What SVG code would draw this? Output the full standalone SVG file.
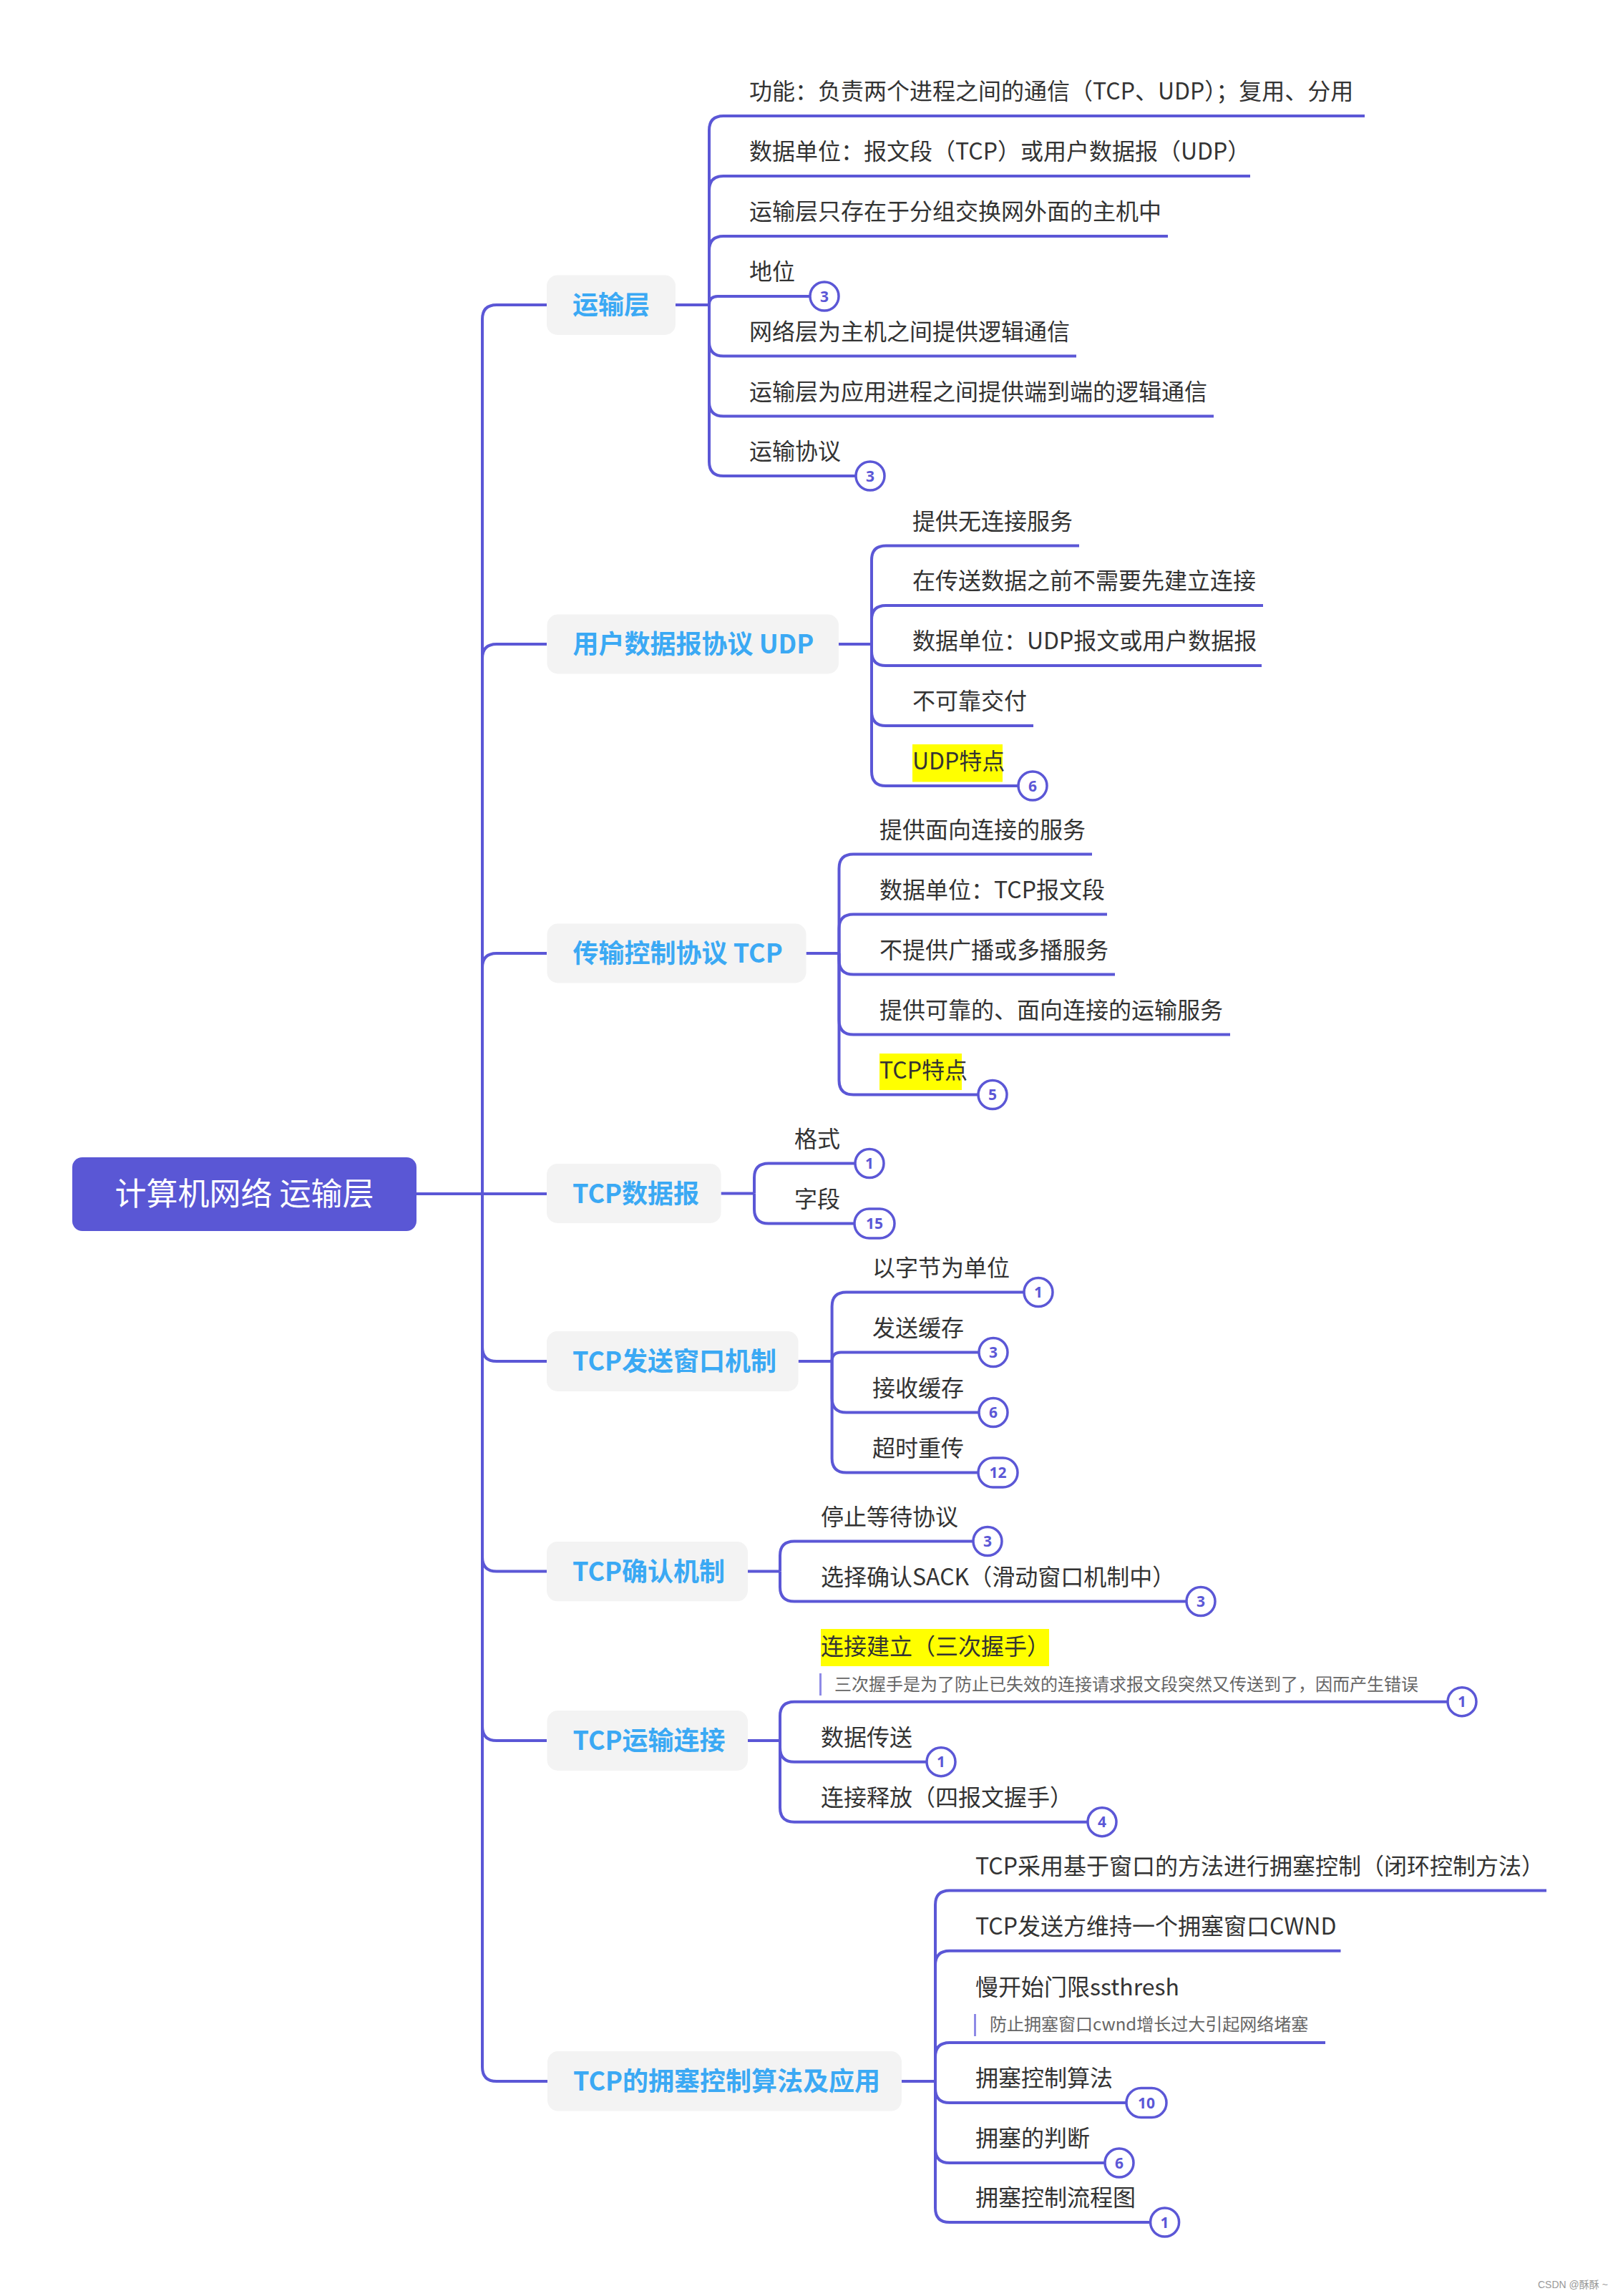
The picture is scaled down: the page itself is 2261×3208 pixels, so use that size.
<svg xmlns="http://www.w3.org/2000/svg" width="2261" height="3208" viewBox="0 0 2261 3208">
<style>
.ln{fill:none;stroke:#5b57d6;stroke-width:4;stroke-linecap:butt}
.l1 rect{fill:#f3f3f3}
.l1 text{font-family:"Noto Sans CJK SC","Noto Sans",sans-serif;font-weight:700;font-size:36px;fill:#3ba9f4}
.t{font-family:"Noto Sans CJK SC","Noto Sans",sans-serif;font-size:32px;fill:#333}
.note{font-family:"Noto Sans CJK SC","Noto Sans",sans-serif;font-size:24px;fill:#666}
.bar{fill:#8e8ae6}
.hl{fill:#ffff00}
.bd circle,.bd rect{fill:#fff;stroke:#5b57d6;stroke-width:3.5}
.bd text{font-family:"Noto Sans","Noto Sans CJK SC",sans-serif;font-weight:700;font-size:21px;fill:#5b57d6;text-anchor:middle}
</style>
<rect width="2261" height="3208" fill="#fff"/>
<g id="connectors">
<path class="ln" d="M582 1668 H764"/>
<path class="ln" d="M674 1668 V446 Q674 426 694 426 H764"/>
<path class="ln" d="M674 1668 V920 Q674 900 694 900 H764"/>
<path class="ln" d="M674 1668 V1352 Q674 1332 694 1332 H764"/>
<path class="ln" d="M674 1668 V1882 Q674 1902 694 1902 H764"/>
<path class="ln" d="M674 1668 V2175.5 Q674 2195.5 694 2195.5 H764"/>
<path class="ln" d="M674 1668 V2412 Q674 2432 694 2432 H764"/>
<path class="ln" d="M674 1668 V2888 Q674 2908 694 2908 H765"/>
<path class="ln" d="M944 426 H991"/>
<path class="ln" d="M991 426 V182 Q991 162 1011 162 H1907"/>
<path class="ln" d="M991 426 V266 Q991 246 1011 246 H1747"/>
<path class="ln" d="M991 426 V350 Q991 330 1011 330 H1632"/>
<path class="ln" d="M991 426 Q991 414 1003 414 H1152"/>
<path class="ln" d="M991 426 V477.5 Q991 497.5 1011 497.5 H1504"/>
<path class="ln" d="M991 426 V561.5 Q991 581.5 1011 581.5 H1696"/>
<path class="ln" d="M991 426 V645 Q991 665 1011 665 H1216"/>
<path class="ln" d="M1172 900 H1218"/>
<path class="ln" d="M1218 900 V782.5 Q1218 762.5 1238 762.5 H1508"/>
<path class="ln" d="M1218 900 V866 Q1218 846 1238 846 H1765"/>
<path class="ln" d="M1218 900 V910 Q1218 930 1238 930 H1763"/>
<path class="ln" d="M1218 900 V994 Q1218 1014 1238 1014 H1444"/>
<path class="ln" d="M1218 900 V1078 Q1218 1098 1238 1098 H1443"/>
<path class="ln" d="M1126.5 1332 H1172.5"/>
<path class="ln" d="M1172.5 1332 V1213.5 Q1172.5 1193.5 1192.5 1193.5 H1526"/>
<path class="ln" d="M1172.5 1332 V1297.5 Q1172.5 1277.5 1192.5 1277.5 H1547"/>
<path class="ln" d="M1172.5 1332 V1341.5 Q1172.5 1361.5 1192.5 1361.5 H1558"/>
<path class="ln" d="M1172.5 1332 V1425.5 Q1172.5 1445.5 1192.5 1445.5 H1719"/>
<path class="ln" d="M1172.5 1332 V1509.5 Q1172.5 1529.5 1192.5 1529.5 H1387"/>
<path class="ln" d="M1007.5 1667.5 H1054"/>
<path class="ln" d="M1054 1667.5 V1645.5 Q1054 1625.5 1074 1625.5 H1215"/>
<path class="ln" d="M1054 1667.5 V1689.5 Q1054 1709.5 1074 1709.5 H1222"/>
<path class="ln" d="M1115.6 1902 H1162.6"/>
<path class="ln" d="M1162.6 1902 V1825.5 Q1162.6 1805.5 1182.6 1805.5 H1451"/>
<path class="ln" d="M1162.6 1902 Q1162.6 1889.5 1175.1 1889.5 H1388"/>
<path class="ln" d="M1162.6 1902 V1953.5 Q1162.6 1973.5 1182.6 1973.5 H1388"/>
<path class="ln" d="M1162.6 1902 V2037.5 Q1162.6 2057.5 1182.6 2057.5 H1394"/>
<path class="ln" d="M1045 2195.5 H1090"/>
<path class="ln" d="M1090 2195.5 V2173.5 Q1090 2153.5 1110 2153.5 H1380"/>
<path class="ln" d="M1090 2195.5 V2217.5 Q1090 2237.5 1110 2237.5 H1678"/>
<path class="ln" d="M1045 2432 H1090"/>
<path class="ln" d="M1090 2432 V2397.7 Q1090 2377.7 1110 2377.7 H2043"/>
<path class="ln" d="M1090 2432 V2441.7 Q1090 2461.7 1110 2461.7 H1315"/>
<path class="ln" d="M1090 2432 V2525.7 Q1090 2545.7 1110 2545.7 H1540"/>
<path class="ln" d="M1260 2908 H1307"/>
<path class="ln" d="M1307 2908 V2661.5 Q1307 2641.5 1327 2641.5 H2161"/>
<path class="ln" d="M1307 2908 V2745.7 Q1307 2725.7 1327 2725.7 H1873.5"/>
<path class="ln" d="M1307 2908 V2874 Q1307 2854 1327 2854 H1852"/>
<path class="ln" d="M1307 2908 V2918 Q1307 2938 1327 2938 H1602"/>
<path class="ln" d="M1307 2908 V3002 Q1307 3022 1327 3022 H1564"/>
<path class="ln" d="M1307 2908 V3085 Q1307 3105 1327 3105 H1627.6"/>
</g>
<g id="root">
<rect x="101" y="1617" width="481" height="103" rx="14" fill="#5a57d5"/>
<text x="341.5" y="1684" text-anchor="middle" font-family="Noto Sans CJK SC, Noto Sans, sans-serif" font-size="44" fill="#fff">计算机网络 运输层</text>
</g>
<g id="n-transport" class="l1"><rect x="764" y="384.5" width="180" height="83.5" rx="15"/><text x="800" y="439">运输层</text></g>
<g id="n-udp" class="l1"><rect x="764.5" y="858.5" width="407.5" height="83" rx="15"/><text x="800.5" y="913">用户数据报协议 UDP</text></g>
<g id="n-tcp" class="l1"><rect x="764.5" y="1290.5" width="362" height="83" rx="15"/><text x="800.5" y="1345">传输控制协议 TCP</text></g>
<g id="n-tcpdg" class="l1"><rect x="764" y="1626" width="243.5" height="83" rx="15"/><text x="800" y="1680.5">TCP数据报</text></g>
<g id="n-window" class="l1"><rect x="764" y="1860" width="351.6" height="84" rx="15"/><text x="800" y="1915">TCP发送窗口机制</text></g>
<g id="n-ack" class="l1"><rect x="764" y="2154" width="281" height="83.3" rx="15"/><text x="800" y="2208.5">TCP确认机制</text></g>
<g id="n-conn" class="l1"><rect x="764.5" y="2390" width="280.5" height="84" rx="15"/><text x="800.5" y="2445">TCP运输连接</text></g>
<g id="n-cong" class="l1"><rect x="765" y="2866" width="495" height="83.6" rx="15"/><text x="801" y="2921">TCP的拥塞控制算法及应用</text></g>

<g id="c-transport">
<text class="t" x="1047" y="139">功能：负责两个进程之间的通信（TCP、UDP）；复用、分用</text>
<text class="t" x="1047" y="223">数据单位：报文段（TCP）或用户数据报（UDP）</text>
<text class="t" x="1047" y="307">运输层只存在于分组交换网外面的主机中</text>
<text class="t" x="1047" y="391">地位</text>
<text class="t" x="1047" y="474.5">网络层为主机之间提供逻辑通信</text>
<text class="t" x="1047" y="558.5">运输层为应用进程之间提供端到端的逻辑通信</text>
<text class="t" x="1047" y="642">运输协议</text>
<g class="bd"><circle cx="1152" cy="414" r="20"/><text x="1152" y="421.5">3</text></g>
<g class="bd"><circle cx="1216" cy="665" r="20"/><text x="1216" y="672.5">3</text></g>
</g>
<g id="c-udp">
<rect class="hl" x="1275" y="1040" width="126" height="52.5"/>
<text class="t" x="1275" y="739.5">提供无连接服务</text>
<text class="t" x="1275" y="823">在传送数据之前不需要先建立连接</text>
<text class="t" x="1275" y="907">数据单位：UDP报文或用户数据报</text>
<text class="t" x="1275" y="991">不可靠交付</text>
<text class="t" x="1275" y="1075">UDP特点</text>
<g class="bd"><circle cx="1443" cy="1098" r="20"/><text x="1443" y="1105.5">6</text></g>
</g>
<g id="c-tcp">
<rect class="hl" x="1229" y="1472" width="115" height="51"/>
<text class="t" x="1229" y="1170.5">提供面向连接的服务</text>
<text class="t" x="1229" y="1254.5">数据单位：TCP报文段</text>
<text class="t" x="1229" y="1338.5">不提供广播或多播服务</text>
<text class="t" x="1229" y="1422.5">提供可靠的、面向连接的运输服务</text>
<text class="t" x="1229" y="1506.5">TCP特点</text>
<g class="bd"><circle cx="1387" cy="1529.5" r="20"/><text x="1387" y="1537">5</text></g>
</g>
<g id="c-tcpdg">
<text class="t" x="1110" y="1602.5">格式</text>
<text class="t" x="1110" y="1686.5">字段</text>
<g class="bd"><circle cx="1215" cy="1625.5" r="20"/><text x="1215" y="1633">1</text></g>
<g class="bd"><rect x="1194" y="1689" width="56" height="41" rx="20.5"/><text x="1222" y="1717">15</text></g>
</g>
<g id="c-window">
<text class="t" x="1219" y="1782.5">以字节为单位</text>
<text class="t" x="1219" y="1866.5">发送缓存</text>
<text class="t" x="1219" y="1950.5">接收缓存</text>
<text class="t" x="1219" y="2034.5">超时重传</text>
<g class="bd"><circle cx="1451" cy="1805.5" r="20"/><text x="1451" y="1813">1</text></g>
<g class="bd"><circle cx="1388" cy="1889.5" r="20"/><text x="1388" y="1897">3</text></g>
<g class="bd"><circle cx="1388" cy="1973.5" r="20"/><text x="1388" y="1981">6</text></g>
<g class="bd"><rect x="1367" y="2037" width="55" height="41" rx="20.5"/><text x="1394.5" y="2065">12</text></g>
</g>
<g id="c-ack">
<text class="t" x="1147" y="2130.5">停止等待协议</text>
<text class="t" x="1147" y="2214.5">选择确认SACK（滑动窗口机制中）</text>
<g class="bd"><circle cx="1380" cy="2153.5" r="20"/><text x="1380" y="2161">3</text></g>
<g class="bd"><circle cx="1678" cy="2237.5" r="20"/><text x="1678" y="2245">3</text></g>
</g>
<g id="c-conn">
<rect class="hl" x="1147" y="2276" width="319" height="52"/>
<text class="t" x="1147" y="2312">连接建立（三次握手）</text>
<rect class="bar" x="1145" y="2338" width="3" height="31"/>
<text class="note" x="1166" y="2362">三次握手是为了防止已失效的连接请求报文段突然又传送到了，因而产生错误</text>
<text class="t" x="1147" y="2438.7">数据传送</text>
<text class="t" x="1147" y="2522.7">连接释放（四报文握手）</text>
<g class="bd"><circle cx="2043" cy="2377.7" r="20"/><text x="2043" y="2385.2">1</text></g>
<g class="bd"><circle cx="1315" cy="2461.7" r="20"/><text x="1315" y="2469.2">1</text></g>
<g class="bd"><circle cx="1540" cy="2545.7" r="20"/><text x="1540" y="2553.2">4</text></g>
</g>
<g id="c-cong">
<text class="t" x="1363" y="2618.5">TCP采用基于窗口的方法进行拥塞控制（闭环控制方法）</text>
<text class="t" x="1363" y="2702.7">TCP发送方维持一个拥塞窗口CWND</text>
<text class="t" x="1363" y="2788">慢开始门限ssthresh</text>
<rect class="bar" x="1361" y="2814" width="3" height="31"/>
<text class="note" x="1383" y="2837">防止拥塞窗口cwnd增长过大引起网络堵塞</text>
<text class="t" x="1363" y="2915">拥塞控制算法</text>
<text class="t" x="1363" y="2999">拥塞的判断</text>
<text class="t" x="1363" y="3082">拥塞控制流程图</text>
<g class="bd"><rect x="1574" y="2917.5" width="56" height="41" rx="20.5"/><text x="1602" y="2945.5">10</text></g>
<g class="bd"><circle cx="1564" cy="3022" r="20"/><text x="1564" y="3029.5">6</text></g>
<g class="bd"><circle cx="1627.6" cy="3105" r="20"/><text x="1627.6" y="3112.5">1</text></g>
</g>
<text x="2149" y="3197" font-family="Liberation Sans, Noto Sans CJK SC, sans-serif" font-size="14" fill="#999">CSDN @酥酥 ~</text>
</svg>
